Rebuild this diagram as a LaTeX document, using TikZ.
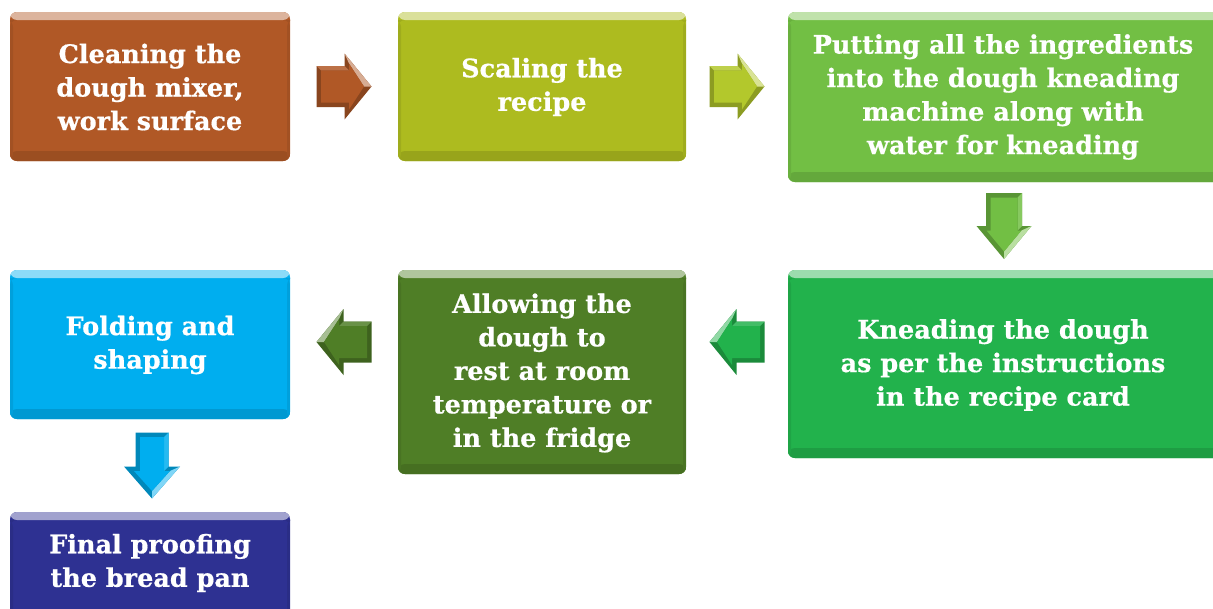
\documentclass[tikz,border=0pt]{standalone}
\usepackage{fontspec}
\setmainfont{DejaVu Serif}
\newfontfamily\boxff[FakeBold=0.6]{DejaVu Serif Bold}
\usetikzlibrary{calc}
\definecolor{cbrown}{HTML}{B05826}
\definecolor{colive}{HTML}{ADBB1F}
\definecolor{colivea}{HTML}{B3C82C}
\definecolor{cgreenA}{HTML}{72BF44}
\definecolor{cgreenB}{HTML}{22B24C}
\definecolor{cgreenD}{HTML}{4F7E26}
\definecolor{ccyan}{HTML}{00AEEF}
\definecolor{cnavy}{HTML}{2E3192}
\newcommand{\boxfont}{\boxff\fontsize{25.5}{33.5}\selectfont}
\tikzset{
  box/.style={rounded corners=7pt, fill=#1, text=white, font=\boxfont,
    align=center, inner sep=0pt,
    path picture={
      \fill[#1!45!white] (path picture bounding box.north west) rectangle ([yshift=-8pt]path picture bounding box.north east);
      \fill[#1!88!black] ([yshift=10pt]path picture bounding box.south west) rectangle (path picture bounding box.south east);
      \fill[#1!92!black] (path picture bounding box.south west) rectangle ([xshift=3pt,yshift=-8pt]path picture bounding box.north west);
      \fill[#1!92!black] (path picture bounding box.south east) rectangle ([xshift=-3pt,yshift=-8pt]path picture bounding box.north east);
    }},
  boxtext/.style={text=white, font=\boxfont, align=center, inner sep=0pt},
  % colour / length / head half-width / head length / body half-width
  pics/barrow/.style args={#1/#2/#3/#4/#5}{code={
    \pgfmathsetmacro{\La}{-#2/2}
    \pgfmathsetmacro{\Lt}{#2/2}
    \pgfmathsetmacro{\Lh}{#2/2-#4}
    \pgfmathsetmacro{\Li}{\Lh+4.5}
    \pgfmathsetmacro{\Lb}{\La+4.5}
    \pgfmathsetmacro{\Lti}{\Lt-7.5}
    \pgfmathsetmacro{\Hi}{#3-10}
    \pgfmathsetmacro{\Bi}{#5-4.5}
    \fill[#1!78!black] (\La,-#5) -- (\Lh,-#5) -- (\Lh,-#3) -- (\Lt,0) -- (\Lh,#3) -- (\Lh,#5) -- (\La,#5) -- cycle;
    \fill[#1!50!white] (\Lh,-#3) -- (\Lt,0) -- (\Lti,0) -- (\Li,-\Hi) -- cycle;
    \fill[#1!85!white] (\La,-#5) -- (\Lh,-#5) -- (\Li,-\Bi) -- (\Lb,-\Bi) -- cycle;
    \fill[#1] (\Lb,-\Bi) -- (\Li,-\Bi) -- (\Li,-\Hi) -- (\Lti,0) -- (\Li,\Hi) -- (\Li,\Bi) -- (\Lb,\Bi) -- cycle;
  }}
}
\begin{document}
\begin{tikzpicture}[x=1pt,y=-1pt]
\useasboundingbox (0,0) rectangle (1213,608);
\begin{scope}
\clip (0,0) rectangle (1213,608);
\node[box=cbrown, minimum width=280, minimum height=149] (b1) at (150,86.5) {};
\node[box=colive, minimum width=288, minimum height=149] (b2) at (542,86.5) {};
\node[box=cgreenA, minimum width=432, minimum height=170] (b3) at (1004,97) {};
\node[box=cgreenB, minimum width=432, minimum height=188] (b4) at (1004,364) {};
\node[box=cgreenD, minimum width=288, minimum height=204] (b5) at (542,372) {};
\node[box=ccyan, minimum width=280, minimum height=149] (b6) at (150,344.5) {};
\node[box=cnavy, minimum width=280, minimum height=110] (b7) at (150,567) {};
\end{scope}
\node[boxtext] (t1) at (150,87) {Cleaning the\\dough mixer,\\work surface};
\node[boxtext] (t2) at (542,87) {Scaling the\\recipe};
\node[boxtext] (t3) at (1003,97) {Putting all the ingredients\\into the dough kneading\\machine along with\\water for kneading};
\node[boxtext] (t4) at (1003,365) {Kneading the dough\\as per the instructions\\in the recipe card};
\node[boxtext] (t5) at (542,373) {Allowing the\\dough to\\rest at room\\temperature or\\in the fridge};
\node[boxtext] (t6) at (150,345) {Folding and\\shaping};
\node[boxtext] (t7) at (150,563) {Final proofing\\the bread pan};
\coordinate (m1) at ($(b1.east)!0.5!(b2.west)$);
\coordinate (m2) at ($(b2.east)!0.5!(b2.east -| b3.west)$);
\coordinate (m3) at ($(b3.south)!0.5!(b4.north)$);
\coordinate (m4) at ($(b5.east |- 0,342)!0.5!(b4.west |- 0,342)$);
\coordinate (m5) at ($(b6.east |- 0,342)!0.5!(b5.west |- 0,342)$);
\coordinate (m6) at ($(b6.south)!0.5!(b7.north)$);
\pic at (m1) {barrow={cbrown/55/33/27/20.5}};
\pic at (m2) {barrow={colivea/55/33/27/20.5}};
\pic[rotate=-90] at (m3) {barrow={cgreenA/66/27.5/33/18}};
\pic[xscale=-1] at (m4) {barrow={cgreenB/55/33/27/20.5}};
\pic[xscale=-1] at (m5) {barrow={cgreenD/55/33/27/20.5}};
\pic[rotate=-90] at ([xshift=2pt]m6) {barrow={ccyan/66/28/32/16.5}};
\end{tikzpicture}
\end{document}
